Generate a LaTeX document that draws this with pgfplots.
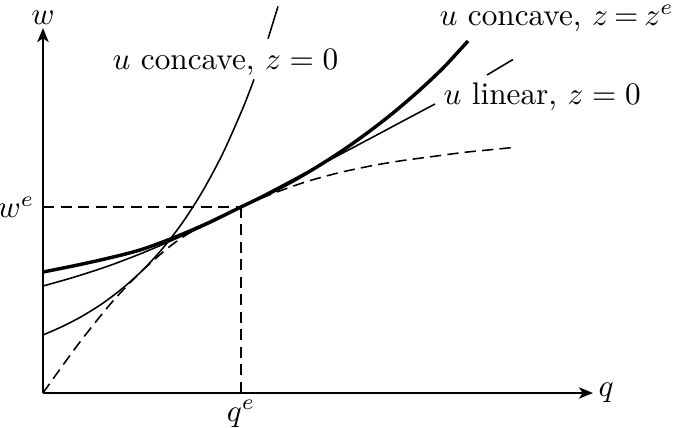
\documentclass[border=0pt]{standalone}
\usepackage{pgfplots}
\pgfplotsset{compat=1.18}
\usetikzlibrary{arrows.meta}

\begin{document}
\begin{tikzpicture}
  \begin{axis}[
      x=0.32pt, y=0.32pt,
      xmin=0, xmax=550, ymin=0, ymax=365,
      axis lines=left,
      axis line style={line width=0.8pt, -{Stealth[length=4.5pt,width=3.6pt,inset=1.2pt]}},
      xtick={198}, xticklabels={$q^e$},
      ytick={186}, yticklabels={$w^e$},
      major tick length=0pt,
      xticklabel style={inner sep=0pt, yshift=-2.2pt},
      yticklabel style={inner sep=0pt, xshift=-2.6pt},
      clip=false,
    ]
    % equilibrium guides
    \addplot[black, line width=0.5pt, dash pattern=on 3.6pt off 2pt]
      coordinates {(0,186) (198,186)};
    \addplot[black, line width=0.5pt, dash pattern=on 3.6pt off 2pt]
      coordinates {(198,0) (198,186)};

    % dashed envelope
    \addplot[black, line width=0.5pt, smooth, dash pattern=on 3.6pt off 2pt]
      coordinates {(0,0) (20,28) (40,55) (70,92) (100,123) (130,149) (160,168)
        (198,186) (230,199.5) (264,211.5) (297,220.5) (330,227.5) (360,232.5)
        (390,236.5) (420,240.5) (445,243) (470,245.5)};

    % u concave, z = z^e (thick)
    \addplot[black, line width=1.1pt, smooth]
      coordinates {(0,121) (30,127) (64,134.5) (97,143) (130,155) (165,170)
        (198,186) (225,199) (250,212) (275,226.7) (300,242.8) (325,260.6)
        (350,280) (375,301.4) (400,324.9) (425,352)};

    % u linear, z = 0
    \addplot[black, line width=0.5pt, smooth]
      coordinates {(0,107) (30,115.5) (64,126.5) (97,139) (130,153) (165,169)
        (198,186) (230,203) (264,221) (297,238.5) (330,256) (360,272) (392,289)};
    \addplot[black, line width=0.5pt]
      coordinates {(444,318) (470,333.5)};

    % u concave, z = 0
    \addplot[black, line width=0.5pt, smooth]
      coordinates {(0,58) (20,66.8) (40,77.3) (60,89.9) (80,105.1) (100,123.2)
        (120,145) (140,171.1) (160,202.5) (180,240) (200,285.1) (211,313.6)};
    \addplot[black, line width=0.5pt]
      coordinates {(225,354.2) (235,386.6)};

    % labels
    \node[anchor=base, inner sep=0pt] at (axis cs:0,368) {$w$};
    \node[anchor=west, inner sep=0pt] at (axis cs:555,0) {$q$};
    \node[anchor=west, inner sep=0pt] at (axis cs:69,331) {$u$ concave, $z=0$};
    \node[anchor=west, inner sep=0pt] at (axis cs:396,375)
      {$u$ concave, $z\mkern-1.5mu=\mkern-1.5mu z^{e}$};
    \node[anchor=west, inner sep=0pt] at (axis cs:400,296) {$u$ linear, $z=0$};

    % page frame
    \coordinate (bl) at (axis cs:-43,-34);
    \coordinate (tr) at (axis cs:635,393);
  \end{axis}
  \pgfresetboundingbox
  \useasboundingbox (bl) rectangle (tr);
\end{tikzpicture}
\end{document}
